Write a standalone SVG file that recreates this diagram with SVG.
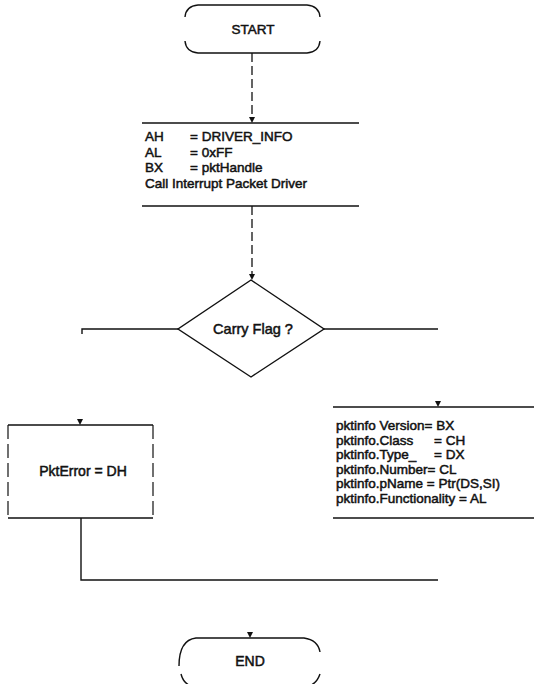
<svg xmlns="http://www.w3.org/2000/svg" width="534" height="684" viewBox="0 0 534 684">
<style>
.ln{fill:none;stroke:#111;stroke-width:1.4}
.dash{fill:none;stroke:#111;stroke-width:1.3;stroke-dasharray:9 4}
.side{fill:none;stroke:#111;stroke-width:1.2;stroke-dasharray:14 5}
.t{font-family:"Liberation Sans",Arial,sans-serif;font-size:14px;fill:#111;stroke:#111;stroke-width:0.5}
.s{font-size:13.5px}
.c{text-anchor:middle}
</style>
<defs>
<polygon id="ah" points="-3,-6 3,-6 0,0" fill="#111"/>
</defs>
<rect width="534" height="684" fill="#fff"/>
<g id="connectors">
<path class="dash" d="M252,53 L252,118"/>
<use href="#ah" x="252" y="123"/>
<path class="dash" d="M252,206 L252,275"/>
<use href="#ah" x="252" y="280"/>
<path class="ln" d="M82,334 L82,329 L178,329"/>
<path class="ln" d="M324,329 L438,329"/>
<use href="#ah" x="80" y="425"/>
<use href="#ah" x="438" y="407"/>
<path class="ln" d="M81,518 L81,580 L438,580"/>
<use href="#ah" x="250" y="638"/>
</g>
<g id="start">
<path class="ln" d="M185,17 Q186,6 198,5 L307,5 Q319,6 320,17"/>
<path class="ln" d="M185,41 Q186,52 198,53 L307,53 Q319,52 320,41"/>
<text class="t s c" x="253" y="34">START</text>
</g>
<g id="init">
<path class="ln" d="M142,123 L359,123"/>
<path class="ln" d="M142,206 L359,206"/>
<text class="t s" x="145" y="141">AH<tspan x="190">= DRIVER_INFO</tspan></text>
<text class="t s" x="145" y="156.5">AL<tspan x="190">= 0xFF</tspan></text>
<text class="t s" x="145" y="172">BX<tspan x="190">= pktHandle</tspan></text>
<text class="t s" x="145" y="187.5">Call Interrupt Packet Driver</text>
</g>
<g id="carry">
<polygon class="ln" points="251,280 178,329 251,377 324,329"/>
<text class="t c" x="253" y="334" style="font-size:14.5px">Carry Flag ?</text>
</g>
<g id="error">
<path class="ln" d="M8,425 L153,425 M8,518 L153,518"/>
<path class="side" d="M8,425 L8,518 M153,425 L153,518"/>
<text class="t c" x="83" y="476">PktError = DH</text>
</g>
<g id="info">
<path class="ln" d="M333,407 L534,407"/>
<path class="ln" d="M333,518 L534,518"/>
<text class="t s" x="336" y="430">pktinfo Version= BX</text>
<text class="t s" x="336" y="444.5">pktinfo.Class<tspan x="434">= CH</tspan></text>
<text class="t s" x="336" y="459">pktinfo.Type_<tspan x="434">= DX</tspan></text>
<text class="t s" x="336" y="473.5">pktinfo.Number= CL</text>
<text class="t s" x="336" y="488">pktinfo.pName = Ptr(DS,SI)</text>
<text class="t s" x="336" y="502.5">pktinfo.Functionality = AL</text>
</g>
<g id="end">
<path class="ln" d="M179,666 Q179,640 196,638 L304,638 Q318,640 320,652"/>
<path class="ln" d="M181,674 Q184,686 196,687 L304,687 Q316,686 320,674"/>
<text class="t c" x="250" y="666">END</text>
</g>
</svg>
